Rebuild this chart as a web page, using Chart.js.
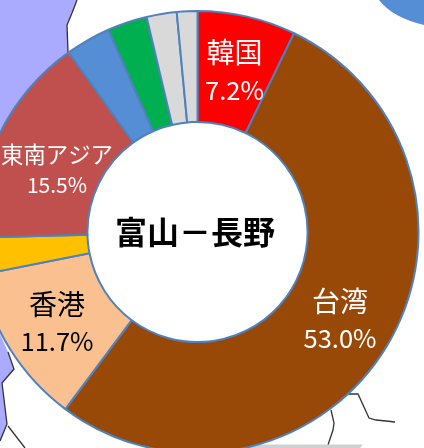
<!DOCTYPE html>
<html>
<head>
<meta charset="utf-8">
<style>
  html, body { margin: 0; padding: 0; background: #fff; overflow: hidden; }
  #wrap { position: relative; width: 424px; height: 448px; }
</style>
<script src="https://cdn.jsdelivr.net/npm/chart.js@4"></script>
</head>
<body>
<div id="wrap"><canvas id="donut" width="424" height="448"></canvas></div>
<script>
const categories = ['韓国', '台湾', '香港', 'その他1', '東南アジア', 'その他2', 'その他3', 'その他4', 'その他5'];
const shares = [7.2, 53.0, 11.7, 2.7, 15.5, 3.3, 2.9, 2.2, 1.5];
const sliceColors = ['#FF0000', '#984807', '#FAC090', '#FFC000', '#C0504D', '#558ED5', '#00B050', '#D9D9D9', '#D9D9D9'];
const centerTitle = '富山－長野';

// label placement is by hand, the original labels are not on the arc midpoints
const sliceLabels = [
  { name: '韓国', pct: '7.2%', color: '#fff', x: 234.5, nameY: 52, pctY: 90, nameSize: 28, pctSize: 25.5 },
  { name: '台湾', pct: '53.0%', color: '#fff', x: 340, nameY: 301, pctY: 338, nameSize: 28, pctSize: 25.5 },
  { name: '香港', pct: '11.7%', color: '#000', x: 57, nameY: 304, pctY: 341, nameSize: 28, pctSize: 25.5 },
  { name: '東南アジア', pct: '15.5%', color: '#fff', x: 57, nameY: 154, pctY: 185, nameSize: 22.4, pctSize: 21 }
];

const jpFont = '"Noto Sans CJK JP", "Noto Sans", sans-serif';

// map pieces sitting behind the donut
const backdrop = {
  id: 'backdrop',
  beforeDraw(chart) {
    const ctx = chart.ctx;
    ctx.save();
    ctx.fillStyle = '#AAAAFF';
    ctx.strokeStyle = '#333';
    ctx.lineWidth = 1.3;

    ctx.beginPath();
    ctx.moveTo(0, 0);
    ctx.lineTo(77, 0);
    ctx.lineTo(72, 13);
    ctx.lineTo(67, 25);
    ctx.lineTo(68, 52);
    ctx.lineTo(0, 130);
    ctx.closePath();
    ctx.fill();
    ctx.beginPath();
    ctx.moveTo(77, 0);
    ctx.lineTo(72, 13);
    ctx.lineTo(67, 25);
    ctx.lineTo(68, 52);
    ctx.stroke();

    ctx.beginPath();
    ctx.moveTo(0, 334);
    ctx.lineTo(8, 352);
    ctx.lineTo(14, 369);
    ctx.lineTo(2, 383);
    ctx.lineTo(7, 424);
    ctx.lineTo(0, 441);
    ctx.closePath();
    ctx.fill();
    ctx.beginPath();
    ctx.moveTo(8, 352);
    ctx.lineTo(14, 369);
    ctx.lineTo(2, 383);
    ctx.lineTo(7, 424);
    ctx.lineTo(0, 441);
    ctx.moveTo(8, 426);
    ctx.lineTo(25, 448);
    ctx.moveTo(348, 394);
    ctx.lineTo(358, 394);
    ctx.lineTo(369, 418);
    ctx.lineTo(376, 420);
    ctx.lineTo(386, 421);
    ctx.lineTo(395, 422);
    ctx.moveTo(331, 410);
    ctx.lineTo(334, 423);
    ctx.lineTo(333, 430);
    ctx.lineTo(327, 448);
    ctx.stroke();

    ctx.fillStyle = '#558ED5';
    ctx.beginPath();
    ctx.moveTo(379, 0);
    ctx.quadraticCurveTo(392.5, 17.5, 424, 25);
    ctx.lineTo(424, 0);
    ctx.closePath();
    ctx.fill();

    ctx.fillStyle = '#D0D0D0';
    ctx.beginPath();
    ctx.moveTo(250, 444.5);
    ctx.lineTo(363, 444.5);
    ctx.lineTo(360, 448);
    ctx.lineTo(250, 448);
    ctx.closePath();
    ctx.fill();
    ctx.restore();
  }
};

const donutText = {
  id: 'donutText',
  afterDatasetsDraw(chart) {
    const ctx = chart.ctx;
    const arc = chart.getDatasetMeta(0).data[0];
    ctx.save();
    ctx.textAlign = 'center';
    ctx.textBaseline = 'middle';
    sliceLabels.forEach(l => {
      ctx.fillStyle = l.color;
      ctx.font = `${l.nameSize}px ${jpFont}`;
      ctx.fillText(l.name, l.x, l.nameY);
      ctx.font = `${l.pctSize}px ${jpFont}`;
      ctx.fillText(l.pct, l.x, l.pctY);
    });
    ctx.fillStyle = '#000';
    ctx.font = `bold 32px ${jpFont}`;
    ctx.fillText(centerTitle, arc.x - 2.5, arc.y);
    ctx.restore();
  }
};

new Chart(document.getElementById('donut'), {
  type: 'doughnut',
  data: {
    labels: categories,
    datasets: [{
      data: shares,
      backgroundColor: sliceColors,
      borderColor: '#4F81BD',
      borderWidth: 2,
      borderAlign: 'center',
      clip: false
    }]
  },
  options: {
    responsive: false,
    animation: false,
    radius: 221,
    cutout: '49.8%',
    layout: { padding: { top: 16, right: 29 } },
    plugins: { legend: { display: false }, tooltip: { enabled: false } }
  },
  plugins: [backdrop, donutText]
});
</script>
</body>
</html>
